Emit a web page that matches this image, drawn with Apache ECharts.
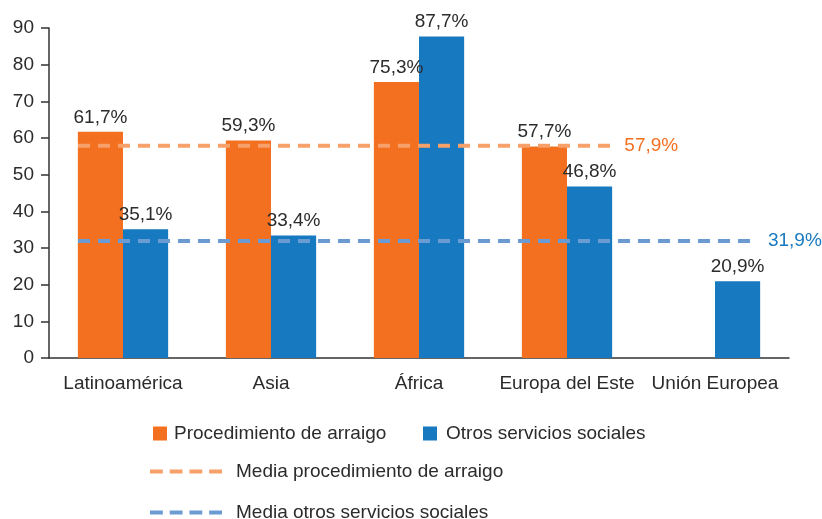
<!DOCTYPE html>
<html>
<head>
<meta charset="utf-8">
<script src="https://cdn.jsdelivr.net/npm/echarts@6/dist/echarts.min.js"></script>
<style>
  html, body { margin: 0; padding: 0; background: #fff; }
  #chart { width: 822px; height: 519px; }
</style>
</head>
<body>
<div id="chart"></div>
<script>
  // datos del gráfico
  var categories = ['Latinoamérica', 'Asia', 'África', 'Europa del Este', 'Unión Europea']
  var arraigo = [61.7, 59.3, 75.3, 57.7, null]
  var otros = [35.1, 33.4, 87.7, 46.8, 20.9]
  var mediaArraigo = 57.9
  var mediaOtros = 31.9
  // extensión de las líneas de media (en unidades de categoría)
  var spanArraigo = [0.196, 3.82]
  var spanOtros = [0.196, 4.79]

  var ORANGE = '#F37021'
  var BLUE = '#1779C0'
  var ORANGE_DASH = '#F7A06A'
  var BLUE_DASH = '#6A9BD3'
  var FONT = '"Liberation Sans", Arial, sans-serif'
  var TEXT = '#2B2B2B'
  var SIZE = 19
  // icono de línea discontinua para la leyenda
  var DASH_ICON = 'path://M0,0h13v4h-13z M20,0h13v4h-13z M40,0h13v4h-13z M60,0h13v4h-13z'

  function pct (v) {
    return v.toFixed(1).replace('.', ',') + '%'
  }

  var chart = echarts.init(document.getElementById('chart'))

  var barLabel = {
    show: true,
    position: 'top',
    distance: 5,
    fontSize: SIZE,
    fontFamily: FONT,
    color: TEXT,
    formatter: function (p) { return pct(p.value) }
  }

  function meanLine (name, value, span, color, labelColor) {
    return {
      name: name,
      type: 'line',
      xAxisIndex: 1,
      symbol: 'none',
      silent: true,
      lineStyle: { color: color, width: 4, type: [12, 8] },
      itemStyle: { color: color },
      endLabel: {
        show: true,
        distance: 10,
        fontSize: SIZE,
        fontFamily: FONT,
        color: labelColor,
        formatter: function () { return pct(value) }
      },
      data: [[span[0], value], [span[1], value]],
      z: 5
    }
  }

  function legendBox (name, left, top, icon, w, h, gap) {
    return {
      data: [{ name: name, icon: icon }],
      left: left,
      top: top,
      itemWidth: w,
      itemHeight: h,
      itemGap: 0,
      padding: 0,
      selectedMode: false,
      textStyle: { fontSize: SIZE, fontFamily: FONT, color: TEXT, padding: [0, 0, 0, gap] }
    }
  }

  chart.setOption({
    animation: false,
    textStyle: { fontFamily: FONT },
    grid: { left: 49, top: 28, right: 33, bottom: 161 },
    legend: [
      legendBox('Procedimiento de arraigo', 153, 424, 'rect', 14, 14, 2),
      legendBox('Otros servicios sociales', 423, 424, 'rect', 14, 14, 4),
      legendBox('Media procedimiento de arraigo', 150, 462, DASH_ICON, 72, 4, 9),
      legendBox('Media otros servicios sociales', 150, 503, DASH_ICON, 72, 4, 9)
    ],
    xAxis: [
      {
        type: 'category',
        data: categories,
        axisLine: { lineStyle: { color: '#333', width: 1.5 } },
        axisTick: { show: false },
        axisLabel: { interval: 0, fontSize: SIZE, fontFamily: FONT, color: TEXT, margin: 16 }
      },
      {
        type: 'value',
        min: 0,
        max: 5,
        show: false
      }
    ],
    yAxis: {
      type: 'value',
      min: 0,
      max: 90,
      interval: 10,
      splitLine: { show: false },
      axisLine: { show: true, lineStyle: { color: '#333', width: 1.5 } },
      axisTick: { show: true, length: 8, lineStyle: { color: '#333', width: 1.5 } },
      axisLabel: { fontSize: SIZE, fontFamily: FONT, color: TEXT, margin: 15 }
    },
    series: [
      {
        name: 'Procedimiento de arraigo',
        type: 'bar',
        data: arraigo,
        barGap: '0%',
        barCategoryGap: '39%',
        itemStyle: { color: ORANGE },
        label: barLabel
      },
      {
        name: 'Otros servicios sociales',
        type: 'bar',
        data: otros,
        itemStyle: { color: BLUE },
        label: barLabel
      },
      meanLine('Media procedimiento de arraigo', mediaArraigo, spanArraigo, ORANGE_DASH, ORANGE),
      meanLine('Media otros servicios sociales', mediaOtros, spanOtros, BLUE_DASH, BLUE)
    ]
  })
</script>
</body>
</html>
